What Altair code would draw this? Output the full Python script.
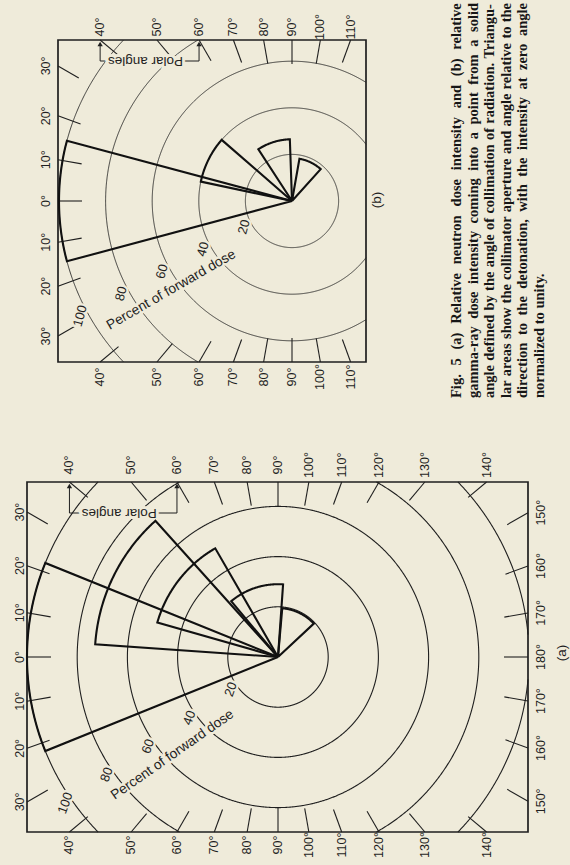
import math
import altair as alt
import pandas as pd

# ---------------- data ----------------
# Collimator sectors: aperture edges (degrees from the detonation direction,
# positive on one side, negative on the other) and dose in percent of forward dose.
neutron_from = [-22, 4, 16, 50, 95]
neutron_to = [22, 48, 60, 94, 137]
neutron_pct = [100, 73, 50, 29, 19.5]

gamma_from = [-15, 12, 57, 100]
gamma_to = [15, 41, 88, 132]
gamma_pct = [100, 40, 26.5, 18.4]

# Dose rings (percent of forward dose) and their labels
ring_pct = [20, 40, 60, 80, 100]
ring_text = ["20", "40", "60", "80", "100"]

# Polar angle ticks around each panel
polar_a = list(range(-170, 181, 10))
polar_b = list(range(-110, 111, 10))

caption_lines = [
    "Fig. 5  (a) Relative neutron dose intensity and (b) relative",
    "gamma-ray dose intensity coming into a point from a solid",
    "angle defined by the angle of collimation of radiation. Triangu-",
    "lar areas show the collimator aperture and angle relative to the",
    "direction to the detonation, with the intensity at zero angle",
    "normalized to unity.",
]

# ---------------- page layout ----------------
W, H = 570, 865
BG = "#efebda"
INK = "#1f1f1f"
SANS = "Liberation Sans"
SERIF = "Liberation Serif"

panels = [
    dict(name="(a)", cx=278, cy=657, unit=2.51, rect=(27, 482, 528, 832),
         sectors=(neutron_from, neutron_to, neutron_pct), angles=polar_a,
         off=dict(left=7, top=17, right=13, bottom=13),
         ring_th=-34.5, ring_pad=7, ring_rot=290,
         title_th=-42.8, title_r=144, title_rot=325,
         name_xy=(562, 653), bracket=31, ring_w=1.1),
    dict(name="(b)", cx=292, cy=201, unit=2.33, rect=(58, 40, 366, 362),
         sectors=(gamma_from, gamma_to, gamma_pct), angles=polar_b,
         off=dict(left=12, top=13, right=13, bottom=15),
         ring_th=-28.5, ring_pad=8, ring_rot=285,
         title_th=-36.3, title_r=150, title_rot=330,
         name_xy=(377, 200), bracket=21, ring_w=0.85),
]
TICK = 24


def direction(th):
    t = math.radians(th)
    return -math.cos(t), -math.sin(t)


def ray_hit(cx, cy, th, rect):
    x0, y0, x1, y1 = rect
    dx, dy = direction(th)
    c = []
    if dx < -1e-9:
        c.append(((x0 - cx) / dx, "left"))
    if dx > 1e-9:
        c.append(((x1 - cx) / dx, "right"))
    if dy < -1e-9:
        c.append(((y0 - cy) / dy, "top"))
    if dy > 1e-9:
        c.append(((y1 - cy) / dy, "bottom"))
    t, side = min(c)
    return cx + t * dx, cy + t * dy, dx, dy, side


def clip(p, q, rect):
    x0, y0, x1, y1 = rect
    dx, dy = q[0] - p[0], q[1] - p[1]
    t0, t1 = 0.0, 1.0
    for pp, qq in ((-dx, p[0] - x0), (dx, x1 - p[0]), (-dy, p[1] - y0), (dy, y1 - p[1])):
        if pp == 0:
            if qq < 0:
                return None
        else:
            r = qq / pp
            if pp < 0:
                t0 = max(t0, r)
            else:
                t1 = min(t1, r)
    if t0 > t1:
        return None
    return (p[0] + t0 * dx, p[1] + t0 * dy), (p[0] + t1 * dx, p[1] + t1 * dy), t0 > 0, t1 < 1


lines = []
seg_id = [0]


def add_path(pts, w):
    seg_id[0] += 1
    for i, (x, y) in enumerate(pts):
        lines.append(dict(x=x, y=y, seg=seg_id[0], o=i, w=w))


def add_clipped_circle(cx, cy, r, rect, w, n=1440):
    pts = [(cx + r * math.cos(2 * math.pi * k / n), cy + r * math.sin(2 * math.pi * k / n))
           for k in range(n + 1)]
    cur = None
    for p, q in zip(pts[:-1], pts[1:]):
        c = clip(p, q, rect)
        if c is None:
            if cur:
                add_path(cur, w)
            cur = None
            continue
        a, b, cut_a, cut_b = c
        if cur is None or cut_a:
            if cur:
                add_path(cur, w)
            cur = [a, b]
        else:
            cur.append(b)
        if cut_b:
            add_path(cur, w)
            cur = None
    if cur:
        add_path(cur, w)


deg_labels = []
halo_text = []
polar_text = []
arrows = []
frames = []
names = []
sector_paths = []

for P in panels:
    cx, cy, u, rect = P["cx"], P["cy"], P["unit"], P["rect"]
    frames.append(dict(x=rect[0], x2=rect[2], y=rect[1], y2=rect[3]))
    # dose rings
    for pct in ring_pct:
        add_clipped_circle(cx, cy, pct * u, rect, P["ring_w"])
    # polar-angle ticks and labels
    for th in P["angles"]:
        hx, hy, dx, dy, side = ray_hit(cx, cy, th, rect)
        add_path([(hx, hy), (hx - TICK * dx, hy - TICK * dy)], 1.1)
        o = P["off"][side]
        lx, ly = {"left": (hx - o, hy), "right": (hx + o, hy),
                  "top": (hx, hy - o), "bottom": (hx, hy + o)}[side]
        deg_labels.append(dict(x=lx, y=ly, t=f"{abs(th)}°"))
    # ring labels along one radius
    for pct, txt in zip(ring_pct, ring_text):
        dx, dy = direction(P["ring_th"])
        r = pct * u + P["ring_pad"]
        halo_text.append(dict(x=cx + r * dx, y=cy + r * dy, t=txt, a=P["ring_rot"], s=13))
    dx, dy = direction(P["title_th"])
    halo_text.append(dict(x=cx + P["title_r"] * dx, y=cy + P["title_r"] * dy,
                          t="Percent of forward dose", a=P["title_rot"], s=13.8))
    # "Polar angles" bracket pointing at the 40° and 60° marks
    xa = ray_hit(cx, cy, 40, rect)[0]
    xb = ray_hit(cx, cy, 60, rect)[0]
    top = rect[1]
    d = P["bracket"]
    add_path([(xa, top + 5), (xa, top + d), (xb, top + d), (xb, top + 5)], 1.0)
    arrows.append(dict(x=xa, y=top + 4))
    arrows.append(dict(x=xb, y=top + 4))
    polar_text.append(dict(x=(xa + xb) / 2 - 4, y=top + d, t="Polar angles"))
    names.append(dict(x=P["name_xy"][0], y=P["name_xy"][1], t=P["name"]))
    # collimator sectors
    f, t, pc = P["sectors"]
    for a0, a1, pct in zip(f, t, pc):
        r = pct * u
        pts = [(cx, cy)]
        steps = max(8, int(abs(a1 - a0) * 2))
        for k in range(steps + 1):
            th = a0 + (a1 - a0) * k / steps
            dx, dy = direction(th)
            pts.append((cx + r * dx, cy + r * dy))
        pts.append((cx, cy))
        seg_id[0] += 1
        for i, (x, y) in enumerate(pts):
            sector_paths.append(dict(x=x, y=y, seg=seg_id[0], o=i))

# ---------------- justified caption (rotated column) ----------------
TB = {" ": 250, "(": 333, ")": 333, ",": 250, "-": 333, ".": 250, "5": 500,
      "F": 611, "R": 722, "T": 667,
      "a": 500, "b": 556, "c": 444, "d": 556, "e": 444, "f": 333, "g": 500,
      "h": 556, "i": 278, "j": 333, "k": 556, "l": 278, "m": 833, "n": 556,
      "o": 500, "p": 556, "q": 556, "r": 444, "s": 389, "t": 333, "u": 556,
      "v": 500, "w": 722, "x": 500, "y": 500, "z": 444}
CAP_SIZE = 14.5
CAP_START, CAP_LEN = 398, 395
CAP_X0, CAP_DX = 457, 16.6


def tw(s):
    return sum(TB.get(ch, 500) for ch in s) * CAP_SIZE / 1000


caption_words = []
for i, line in enumerate(caption_lines):
    words = line.split()
    widths = [tw(w) for w in words]
    if i < len(caption_lines) - 1:
        gap = (CAP_LEN - sum(widths)) / (len(words) - 1)
    else:
        gap = tw(" ")
    pos = 0.0
    for w, wd in zip(words, widths):
        caption_words.append(dict(x=CAP_X0 + i * CAP_DX, y=CAP_START - pos, t=w))
        pos += wd + gap

# ---------------- chart ----------------
xs = alt.Scale(domain=[0, W], range=[0, W], nice=False, zero=False)
ys = alt.Scale(domain=[0, H], range=[0, H], nice=False, zero=False)
X = lambda f="x": alt.X(f"{f}:Q", scale=xs, axis=None)
Y = lambda f="y": alt.Y(f"{f}:Q", scale=ys, axis=None)

base_lines = alt.Chart(pd.DataFrame(lines)).mark_line(color=INK, strokeCap="butt").encode(
    x=X(), y=Y(), detail="seg:N", order="o:Q",
    strokeWidth=alt.StrokeWidth("w:Q", scale=None),
)

frame_layer = alt.Chart(pd.DataFrame(frames)).mark_rect(
    fill=None, stroke=INK, strokeWidth=1.7
).encode(x=X(), x2="x2:Q", y=Y(), y2="y2:Q")

halo_df = pd.DataFrame(halo_text)
halo_under = alt.Chart(halo_df).mark_text(
    font=SANS, align="center", baseline="middle", fill=BG, stroke=BG, strokeWidth=5
).encode(x=X(), y=Y(), text="t:N", angle=alt.Angle("a:Q", scale=None),
         size=alt.Size("s:Q", scale=None))
halo_top = alt.Chart(halo_df).mark_text(
    font=SANS, align="center", baseline="middle", color=INK
).encode(x=X(), y=Y(), text="t:N", angle=alt.Angle("a:Q", scale=None),
         size=alt.Size("s:Q", scale=None))

polar_df = pd.DataFrame(polar_text)
polar_under = alt.Chart(polar_df).mark_text(
    font=SANS, fontSize=13.5, angle=180, align="center", baseline="middle",
    fill=BG, stroke=BG, strokeWidth=6
).encode(x=X(), y=Y(), text="t:N")
polar_top = alt.Chart(polar_df).mark_text(
    font=SANS, fontSize=13.5, angle=180, align="center", baseline="middle", color=INK
).encode(x=X(), y=Y(), text="t:N")

arrow_layer = alt.Chart(pd.DataFrame(arrows)).mark_point(
    shape="triangle-up", filled=True, size=28, color=INK, opacity=1
).encode(x=X(), y=Y())

deg_layer = alt.Chart(pd.DataFrame(deg_labels)).mark_text(
    font=SANS, fontSize=12.5, angle=270, align="center", baseline="middle", color=INK
).encode(x=X(), y=Y(), text="t:N")

name_layer = alt.Chart(pd.DataFrame(names)).mark_text(
    font=SANS, fontSize=13.5, angle=270, align="center", baseline="middle", color=INK
).encode(x=X(), y=Y(), text="t:N")

sector_layer = alt.Chart(pd.DataFrame(sector_paths)).mark_line(
    color="#111111", strokeWidth=2.1, strokeJoin="miter"
).encode(x=X(), y=Y(), detail="seg:N", order="o:Q")

caption_layer = alt.Chart(pd.DataFrame(caption_words)).mark_text(
    font=SERIF, fontWeight="bold", fontSize=CAP_SIZE, angle=270,
    align="left", baseline="middle", color="#161616"
).encode(x=X(), y=Y(), text="t:N")

chart = alt.layer(
    base_lines, frame_layer, halo_under, polar_under, halo_top, polar_top,
    arrow_layer, deg_layer, name_layer, sector_layer, caption_layer,
).properties(
    width=W, height=H, background=BG, padding=0,
    autosize=alt.AutoSizeParams(type="none"),
).configure_view(stroke=None)

chart.save("out.html", embed_options={"renderer": "svg", "actions": False})
